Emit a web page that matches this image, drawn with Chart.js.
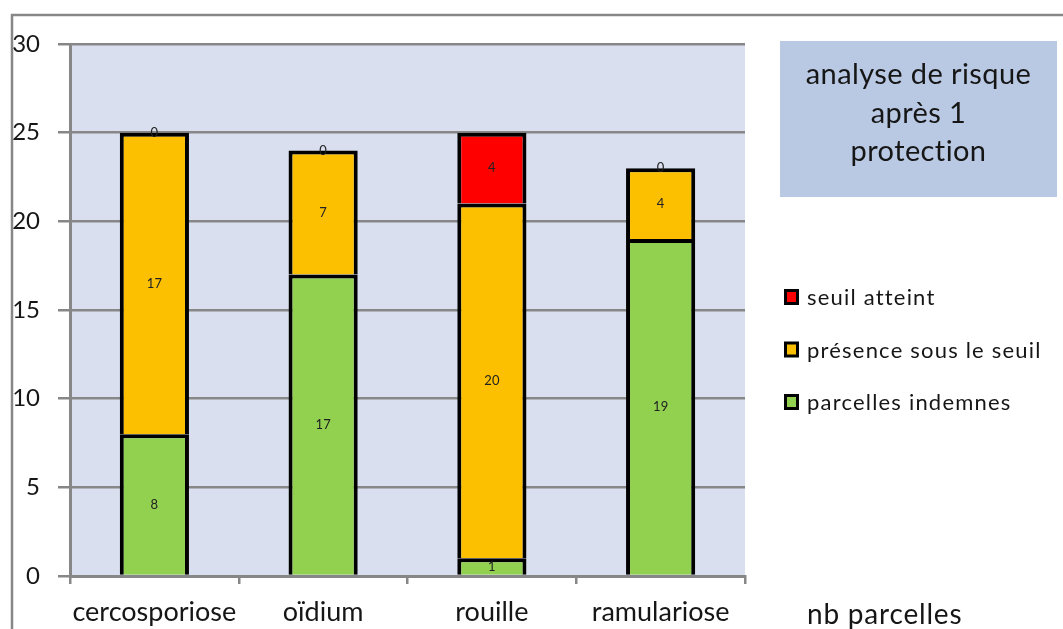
<!DOCTYPE html>
<html><head><meta charset="utf-8">
<script src="https://cdn.jsdelivr.net/npm/chart.js@4.4.1/dist/chart.umd.min.js"></script>
<style>html,body{margin:0;padding:0;background:#fff;}canvas{display:block;}</style>
</head><body>
<canvas id="c" width="1063" height="629"></canvas>
<script>
const categories = ["cercosporiose", "oïdium", "rouille", "ramulariose"];
const indemnes = [8, 17, 1, 19];
const sousSeuil = [17, 7, 20, 4];
const seuilAtteint = [0, 0, 4, 0];
const seriesNames = ["parcelles indemnes", "présence sous le seuil", "seuil atteint"];
const yTicks = [0, 5, 10, 15, 20, 25, 30];
const titleLines = ["analyse de risque", "après 1", "protection"];
const unitLabel = "nb parcelles";

const FONT = "Lato, 'Open Sans', sans-serif";
const TXT = "#161616";
const GRID = "#878787";

const decor = {
  id: 'decor',
  beforeDraw(chart) {
    const {ctx, chartArea: a} = chart;
    ctx.save();
    ctx.fillStyle = "#fff";
    ctx.fillRect(0, 0, chart.width, chart.height);
    ctx.fillStyle = "#d9dfee";
    ctx.fillRect(a.left, a.top, a.right - a.left, a.bottom - a.top);
    ctx.strokeStyle = GRID;
    ctx.lineWidth = 2.5;
    ctx.beginPath();
    ctx.moveTo(12, chart.height);
    ctx.lineTo(12, 15);
    ctx.lineTo(chart.width, 15);
    ctx.stroke();
    ctx.restore();
  },
  afterDatasetsDraw(chart) {
    const {ctx} = chart;
    ctx.save();
    ctx.fillStyle = "#222";
    ctx.font = "13px " + FONT;
    ctx.textAlign = "center";
    ctx.textBaseline = "middle";
    chart.data.datasets.forEach((ds, i) => {
      const meta = chart.getDatasetMeta(i);
      meta.data.forEach((bar, j) => {
        const p = bar.getCenterPoint();
        ctx.fillText(String(ds.data[j]), p.x, p.y);
      });
    });
    ctx.restore();
  },
  afterDraw(chart) {
    const {ctx} = chart;
    ctx.save();
    ctx.fillStyle = "#b9c9e3";
    ctx.fillRect(780, 41, 277, 156);
    ctx.fillStyle = TXT;
    ctx.font = "29px " + FONT;
    ctx.letterSpacing = "0.4px";
    ctx.textAlign = "center";
    ctx.textBaseline = "middle";
    titleLines.forEach((t, i) => ctx.fillText(t, 918.5, 75 + i * 38.5));
    ctx.font = "22px " + FONT;
    ctx.letterSpacing = "1.2px";
    ctx.textAlign = "left";
    const ds = chart.data.datasets.slice().reverse();
    ds.forEach((d, i) => {
      const y = 297 + i * 52.5;
      ctx.fillStyle = "#000";
      ctx.fillRect(784, y - 8, 15, 16);
      ctx.fillStyle = d.backgroundColor;
      ctx.fillRect(787, y - 5, 9, 10);
      ctx.fillStyle = TXT;
      ctx.fillText(d.label, 807, y + 1);
    });
    ctx.font = "28px " + FONT;
    ctx.letterSpacing = "0.8px";
    ctx.fillText(unitLabel, 807, 615);
    ctx.restore();
  }
};

const mk = (label, data, color) => ({
  label, data, backgroundColor: color, borderColor: "#000", borderWidth: 4,
  borderSkipped: 'start', categoryPercentage: 1, barPercentage: 0.41
});

new Chart(document.getElementById('c'), {
  type: 'bar',
  data: {
    labels: categories,
    datasets: [
      mk(seriesNames[0], indemnes, "#92d050"),
      mk(seriesNames[1], sousSeuil, "#fcc000"),
      mk(seriesNames[2], seuilAtteint, "#ff0000")
    ]
  },
  options: {
    responsive: false,
    animation: false,
    layout: {padding: {top: 44, right: 318, left: 0, bottom: 0}},
    plugins: {legend: {display: false}, tooltip: {enabled: false}},
    scales: {
      x: {
        stacked: true,
        afterFit(s) { s.height = 53; s.paddingLeft = 0; s.paddingRight = 0; },
        border: {color: GRID, width: 3},
        grid: {drawOnChartArea: false, color: GRID, lineWidth: 2.5, tickLength: 8, offset: true},
        ticks: {color: TXT, font: {size: 27, family: FONT}, padding: 12,
                maxRotation: 0, minRotation: 0, autoSkip: false}
      },
      y: {
        stacked: true,
        min: 0, max: 30,
        afterFit(s) { s.width = 70; },
        afterBuildTicks(s) { s.ticks = yTicks.map(v => ({value: v})); },
        border: {color: GRID, width: 3},
        grid: {color: GRID, lineWidth: 2.5, tickLength: 12},
        ticks: {color: TXT, font: {size: 24, family: FONT}, padding: 18}
      }
    }
  },
  plugins: [decor]
});
</script>
</body></html>
